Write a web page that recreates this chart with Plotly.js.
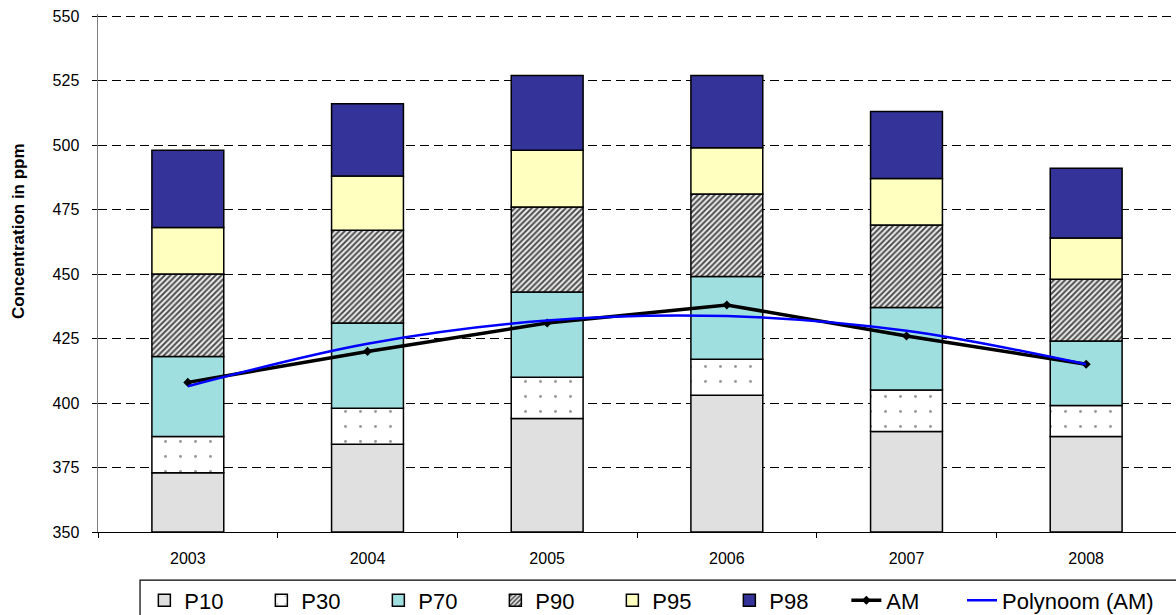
<!DOCTYPE html>
<html>
<head>
<meta charset="utf-8">
<script src="https://cdn.plot.ly/plotly-3.0.1.min.js"></script>
<style>html,body{margin:0;padding:0;background:#fff;}#chart{width:1176px;height:615px;}</style>
</head>
<body>
<div id="chart"></div>
<script>
const years = ['2003', '2004', '2005', '2006', '2007', '2008'];
const P10 = [373, 384, 394, 403, 389, 387];
const P30 = [387, 398, 410, 417, 405, 399];
const P70 = [418, 431, 443, 449, 437, 424];
const P90 = [450, 467, 476, 481, 469, 448];
const P95 = [468, 488, 498, 499, 487, 464];
const P98 = [498, 516, 527, 527, 513, 491];
const AM = [408, 420, 431, 438, 426, 415];
const polyAM = [406.5, 423, 432, 433.7, 428, 415];
const yTitle = 'Concentration in ppm';

const seriesNames = ['P10', 'P30', 'P70', 'P90', 'P95', 'P98'];
const seriesVals = [P10, P30, P70, P90, P95, P98];
const fills = ['#e0e0e0', '#ffffff', '#a0dfe0', '#ffffff', '#ffffc0', '#333399'];
const patterns = [
  null,
  {shape: '.', fgcolor: '#999999', bgcolor: '#ffffff', size: 15, solidity: 0.03},
  null,
  {shape: '/', fgcolor: '#4d4d4d', bgcolor: '#eeeeee', size: 4, solidity: 0.5},
  null,
  null
];

const traces = [];
seriesVals.forEach((vals, i) => {
  const prev = i === 0 ? null : seriesVals[i - 1];
  const marker = {color: fills[i], line: {color: '#000', width: 1.5}};
  if (patterns[i]) marker.pattern = patterns[i];
  traces.push({
    type: 'bar',
    name: seriesNames[i],
    x: years,
    y: prev ? vals.map((v, k) => v - prev[k]) : vals.map(v => v - 350),
    base: prev ? prev : vals.map(() => 350),
    marker: marker,
    hoverinfo: 'skip'
  });
});
traces.push({
  type: 'scatter', mode: 'lines+markers', name: 'AM',
  x: years, y: AM,
  line: {color: '#000', width: 3.5},
  marker: {symbol: 'diamond', size: 7, color: '#000'}
});
traces.push({
  type: 'scatter', mode: 'lines', name: 'Polynoom (AM)', legend: 'legend2',
  x: years, y: polyAM,
  line: {color: '#0000ff', width: 2.5, shape: 'spline', smoothing: 1}
});

const legendFont = {size: 22, family: 'Liberation Sans, Arial, sans-serif'};
const layout = {
  width: 1176, height: 615,
  margin: {l: 98, r: 0, t: 14, b: 83, autoexpand: false},
  paper_bgcolor: '#fff', plot_bgcolor: '#fff',
  font: {family: 'Liberation Sans, Arial, sans-serif', color: '#000', size: 16},
  barmode: 'overlay',
  bargap: 0.6,
  showlegend: true,
  legend: {
    orientation: 'h', x: 0.043, xanchor: 'left', y: -0.132, yanchor: 'middle',
    borderwidth: 0, bgcolor: 'rgba(0,0,0,0)', font: legendFont,
    traceorder: 'normal', itemwidth: 30, entrywidth: 72, entrywidthmode: 'pixels'
  },
  legend2: {
    orientation: 'h', x: 0.8015, xanchor: 'left', y: -0.132, yanchor: 'middle',
    borderwidth: 0, bgcolor: 'rgba(0,0,0,0)', font: legendFont, itemwidth: 30
  },
  shapes: [{
    type: 'rect', xref: 'paper', yref: 'paper',
    x0: 0.039, x1: 1.05, y0: -0.093, y1: -0.2,
    line: {color: '#000', width: 1.2}, fillcolor: 'rgba(0,0,0,0)', layer: 'below'
  }],
  annotations: [{
    text: '<b>' + yTitle + '</b>', textangle: -90, showarrow: false,
    xref: 'paper', yref: 'paper', x: -0.0742, y: 0.581,
    xanchor: 'center', yanchor: 'middle', font: {size: 17}
  }],
  xaxis: {
    type: 'category', tickson: 'boundaries', ticks: 'outside', ticklen: 5,
    tickcolor: '#000', showline: true, linecolor: '#000', linewidth: 1,
    showgrid: false, tickfont: {size: 16}, ticklabelstandoff: 12, fixedrange: true
  },
  yaxis: {
    range: [350, 550.8], tick0: 350, dtick: 25, ticks: 'outside', ticklen: 5,
    tickcolor: '#000', showline: true, linecolor: '#808080', linewidth: 1.5,
    showgrid: true, gridcolor: '#000', gridwidth: 1, griddash: '9px,5px',
    zeroline: false, tickfont: {size: 16}, ticklabelstandoff: 9
  }
};

Plotly.newPlot('chart', traces, layout, {displayModeBar: false, staticPlot: true});
</script>
</body>
</html>
